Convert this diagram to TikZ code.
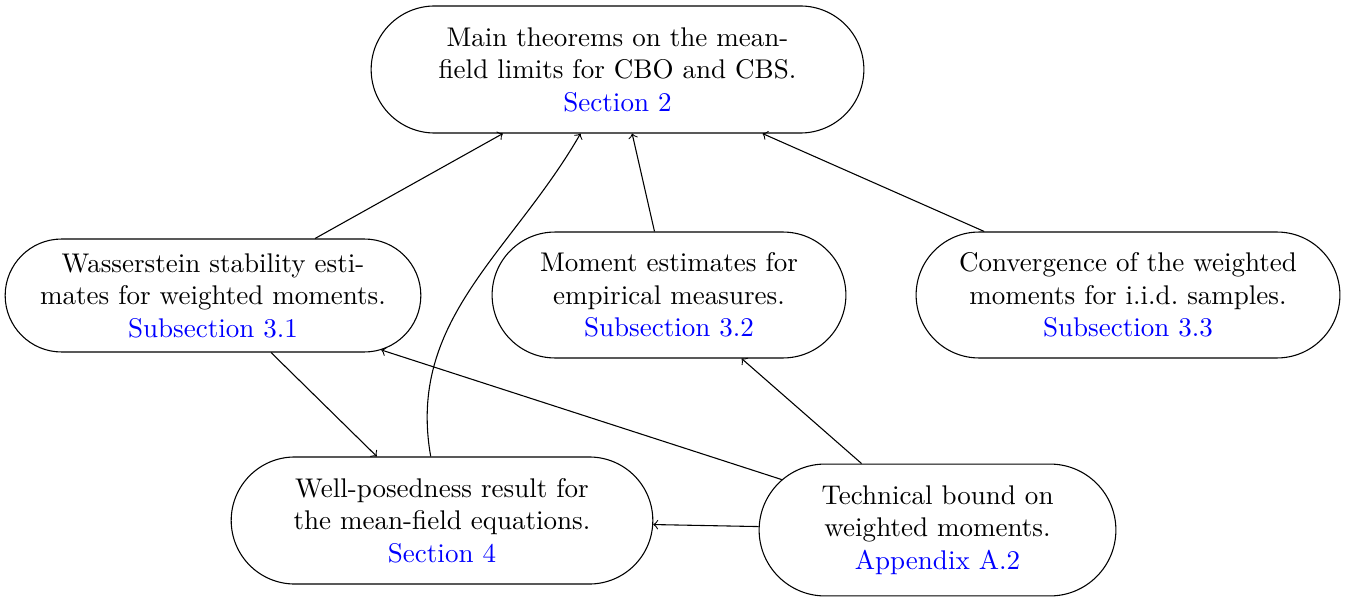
\documentclass[tikz,border=0pt]{standalone}
\usetikzlibrary{shapes.misc}
\begin{document}
\begin{tikzpicture}[x=0.37pt,y=-0.37pt,
  box/.style={draw, rounded rectangle, align=center, inner sep=3pt},
  link/.style={->}]
\useasboundingbox (0,0) rectangle (1352,597);
\node[box, minimum width=188.3pt, minimum height=47pt] (main) at (617.5,69.5)
  {Main theorems on the mean-\\field limits for CBO and CBS.\\\textcolor{blue}{Section 2}};
\node[box, minimum width=159.8pt, minimum height=41.8pt] (wass) at (213,295.5)
  {Wasserstein stability esti-\\mates for weighted moments.\\\textcolor{blue}{Subsection 3.1}};
\node[box, minimum width=136.9pt, minimum height=46.6pt] (mom) at (669,295)
  {Moment estimates for\\empirical measures.\\\textcolor{blue}{Subsection 3.2}};
\node[box, minimum width=162.8pt, minimum height=46.6pt] (conv) at (1128,295)
  {Convergence of the weighted\\moments for i.i.d.\ samples.\\\textcolor{blue}{Subsection 3.3}};
\node[box, minimum width=162pt, minimum height=47pt] (wp) at (442,520.5)
  {Well-posedness result for\\the mean-field equations.\\\textcolor{blue}{Section 4}};
\node[box, minimum width=138pt, minimum height=48.8pt] (tech) at (937.5,530)
  {Technical bound on\\weighted moments.\\\textcolor{blue}{Appendix A.2}};
\draw[link] (wass) -- (main);
\draw[link] (wp) to[out=100,in=240] (main);
\draw[link] (mom) -- (main);
\draw[link] (conv) -- (main);
\draw[link] (wass) -- (wp);
\draw[link] (tech) -- (wass);
\draw[link] (tech) -- (mom);
\draw[link] (tech) -- (wp);
\end{tikzpicture}
\end{document}
